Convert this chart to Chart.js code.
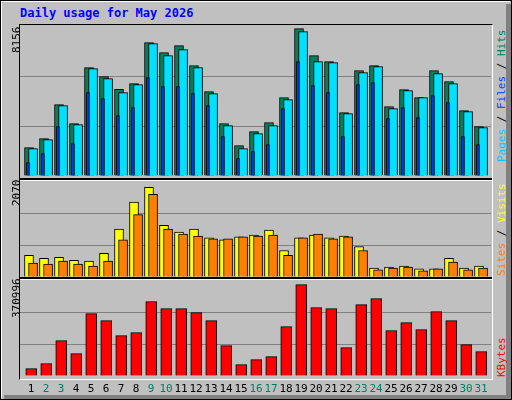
<!DOCTYPE html>
<html><head><meta charset="utf-8">
<script src="https://cdn.jsdelivr.net/npm/chart.js@4"></script>
<style>
html,body{margin:0;padding:0;background:#fff;}
#wrap{position:relative;width:512px;height:400px;background:#c0c0c0;overflow:hidden;font-family:"DejaVu Sans Mono",monospace;}
.abs{position:absolute;}
canvas{position:absolute;}
.rot{position:absolute;transform-origin:0 0;transform:rotate(-90deg);white-space:nowrap;font-size:11px;}
.day{position:absolute;top:382px;width:16px;text-align:center;font-size:11px;}
</style></head><body>
<div id="wrap">
  <div class="abs" style="left:0;top:0;width:510px;height:398px;border-top:2px solid #fff;border-left:2px solid #fff;box-sizing:border-box;"></div>
  <div class="abs" style="left:0;top:0;width:512px;height:400px;border:1px solid #000;box-sizing:border-box;"></div>
  <div class="abs" style="left:506px;top:4px;width:5px;height:395px;background:#808080;"></div>
  <div class="abs" style="left:4px;top:395px;width:507px;height:4px;background:#808080;"></div>
  <div class="abs" style="left:20px;top:6px;color:#0000ff;font-weight:bold;font-size:12px;">Daily usage for May 2026</div>
  <div class="abs" style="left:19px;top:24px;width:474px;height:356px;border:1px solid #000;border-right-color:#fff;border-bottom-color:#fff;box-sizing:border-box;"></div>
  <div class="abs" style="left:20px;top:178px;width:472px;height:2px;background:#000;border-bottom:1px solid #fff;"></div>
  <div class="abs" style="left:20px;top:277px;width:472px;height:2px;background:#000;border-bottom:1px solid #fff;"></div>
  <canvas id="c1" style="left:20px;top:26px;" width="471" height="150"></canvas>
  <canvas id="c2" style="left:20px;top:181px;" width="471" height="96"></canvas>
  <canvas id="c3" style="left:20px;top:281px;" width="471" height="95"></canvas>
  <div class="rot" style="left:10px;top:53px;">8156</div>
  <div class="rot" style="left:10px;top:206px;">2070</div>
  <div class="rot" style="left:10px;top:318px;">370996</div>
  <div class="rot" style="left:495px;top:162px;"><span style="color:#00c8ff">Pages</span> / <span style="color:#0040ff">Files</span> / <span style="color:#00805c">Hits</span></div>
  <div class="rot" style="left:495px;top:276px;"><span style="color:#ff8000">Sites</span> / <span style="color:#ffff00">Visits</span></div>
  <div class="rot" style="left:495px;top:377px;"><span style="color:#ff0000">KBytes</span></div>
  <div id="days"></div>
</div>
<script>
const days = [1,2,3,4,5,6,7,8,9,10,11,12,13,14,15,16,17,18,19,20,21,22,23,24,25,26,27,28,29,30,31];
const weekend = [2,3,9,10,16,17,23,24,30,31];
const hits  = [1541,2030,3879,2845,5890,5401,4712,5020,7250,6706,7086,5999,4585,2845,1649,2410,2900,4259,8011,6543,6217,3444,5727,5999,3770,4694,4259,5727,5129,3552,2682];
const files = [1486,1976,3824,2791,5836,5292,4531,4966,7195,6543,6869,5890,4477,2737,1486,2302,2737,4150,7848,6217,6162,3389,5618,5945,3661,4640,4259,5564,5020,3498,2628];
const pages = [725,1214,2682,1758,4531,4205,3280,3715,5347,4857,4857,4477,3824,2139,942,1323,1704,3661,6217,4912,4531,2139,4966,5075,3117,3715,3172,4368,3987,2139,1704];
const visits= [467,404,425,362,342,509,1032,1617,1931,1115,969,1032,843,802,864,906,1011,572,843,906,843,885,655,195,216,237,174,174,404,195,237];
const sites = [300,279,342,279,237,342,802,1345,1784,1032,927,885,822,822,864,885,906,467,843,927,822,864,572,153,195,216,132,174,321,153,195];
const kbytes= [28637,48163,137980,87214,243418,216082,157506,169221,290279,262943,262943,247323,216082,118455,44258,63783,75499,192652,356666,266849,262943,110645,278564,301994,177031,208272,180936,251228,216082,122360,95024];
const maxHits = 8156, maxVisits = 2070, maxKB = 370996;

const dd = document.getElementById('days');
days.forEach((d,i)=>{
  const e=document.createElement('div'); e.className='day';
  e.style.left=(23+15*i)+'px'; e.style.color=weekend.includes(d)?'#008060':'#000';
  e.textContent=d; dd.appendChild(e);
});

function ds(arr, off, color, w, order){
  return {data: arr.map((v,i)=>({x:days[i]+off,y:v})), backgroundColor:color, borderColor:'#000',
    borderWidth:1, barThickness:w, grouped:false, borderSkipped:'bottom', order:order};
}
function mk(id, sets, max){
  new Chart(document.getElementById(id), {
    type:'bar', data:{datasets:sets},
    options:{responsive:false, animation:false, devicePixelRatio:1,
      layout:{padding:0},
      plugins:{legend:{display:false}, tooltip:{enabled:false}},
      scales:{
        x:{type:'linear', min:0.4, max:31.8, offset:false, bounds:'ticks', display:false, grid:{offset:false}},
        y:{min:0, max:max, ticks:{display:false, stepSize:max/3}, border:{display:false},
           grid:{color:(c)=>(c.index===1||c.index===2)?'#808080':'rgba(0,0,0,0)', lineWidth:1, drawTicks:false}}
      }}
  });
}
mk('c1', [ds(hits,0,'#00805c',9,3), ds(files,0.27,'#00e0ff',9,2), ds(pages,-0.07,'#0040ff',3,1)], maxHits);
mk('c2', [ds(visits,0,'#ffff00',9,2), ds(sites,0.27,'#ff8000',9,1)], maxVisits);
mk('c3', [ds(kbytes,0.15,'#ff0000',11,1)], maxKB);
</script>
</body></html>
